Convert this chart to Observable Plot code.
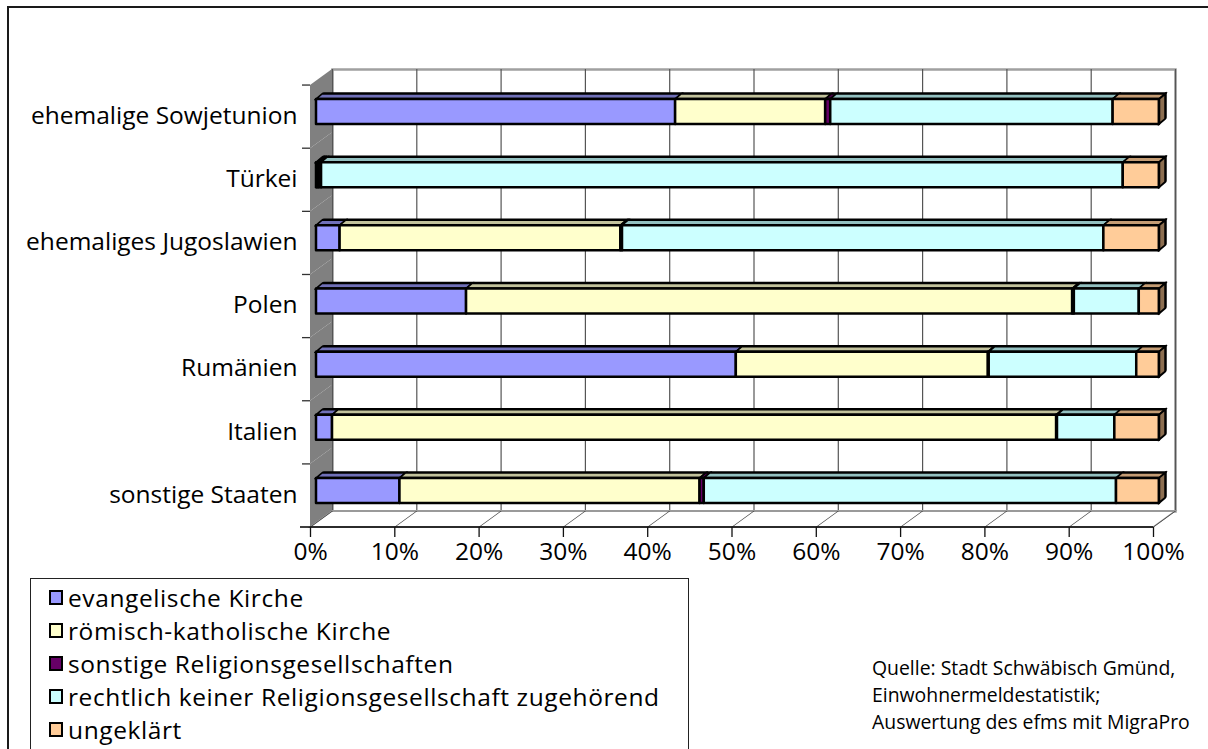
<!DOCTYPE html>
<html lang="de">
<head>
<meta charset="utf-8">
<title>Religionszugehörigkeit nach Herkunftsland</title>
<script src="https://cdn.jsdelivr.net/npm/d3@7"></script>
<script src="https://cdn.jsdelivr.net/npm/@observablehq/plot@0.6"></script>
<style>
  html, body { margin: 0; padding: 0; background: #fff; }
  body { font-family: "Open Sans", sans-serif; color: #000; }
  #page { position: relative; width: 1208px; height: 749px; overflow: hidden; background: #fff; }
  #chart { position: absolute; left: 0; top: 0; }
  #border { position: absolute; left: 7px; top: 6px; width: 1300px; height: 900px; border: 2px solid #1a1a1a; box-sizing: border-box; pointer-events: none; }
  #legend { position: absolute; left: 30px; top: 578px; width: 659px; height: 200px; border: 1px solid #222; box-sizing: border-box; }
  .item { position: absolute; left: 18px; height: 33px; display: flex; align-items: center; font-size: 24.5px; letter-spacing: 0.6px; white-space: nowrap; }
  .swatch { width: 10px; height: 11px; border: 2px solid #000; margin-right: 5px; flex: none; }
  #source { position: absolute; left: 872px; top: 654px; font-size: 19.4px; line-height: 27px; white-space: nowrap; }
</style>
</head>
<body>
<div id="page">
  <div id="chart"></div>
  <div id="border"></div>
  <div id="legend"></div>
  <div id="source">Quelle: Stadt Schwäbisch Gmünd,<br>Einwohnermeldestatistik;<br>Auswertung des efms mit MigraPro</div>
</div>
<script>
// Herkunftsländer (top to bottom)
const categories = [
  "ehemalige Sowjetunion",
  "Türkei",
  "ehemaliges Jugoslawien",
  "Polen",
  "Rumänien",
  "Italien",
  "sonstige Staaten"
];

// Religionszugehörigkeit, stacked left to right
const series = [
  "evangelische Kirche",
  "römisch-katholische Kirche",
  "sonstige Religionsgesellschaften",
  "rechtlich keiner Religionsgesellschaft zugehörend",
  "ungeklärt"
];

// Anteile in Prozent je Herkunftsland
const evangelisch   = [42.6,  0.1,  2.8, 17.8, 49.8,  1.9,  9.9];
const katholisch    = [17.8,  0.2, 33.3, 71.9, 29.9, 85.9, 35.6];
const sonstige      = [ 0.6,  0.3,  0.2,  0.2,  0.1,  0.1,  0.5];
const keineReligion = [33.5, 95.1, 57.1,  7.7, 17.5,  6.8, 48.9];
const ungeklaert    = [ 5.5,  4.3,  6.6,  2.4,  2.7,  5.3,  5.1];

const xTicks = [0, 10, 20, 30, 40, 50, 60, 70, 80, 90, 100];

// Fill colours: front faces, darker top faces, side face of the bar end
const frontColors = ["#9999FF", "#FFFFCC", "#660066", "#CCFFFF", "#FFCC99"];
const topColors   = ["#7070B8", "#C2C29C", "#4A004A", "#93C0C0", "#C49C74"];
const sideColor   = "#8C6E50";

const seriesValues = [evangelisch, katholisch, sonstige, keineReligion, ungeklaert];
const rows = categories.flatMap((country, i) =>
  series.map((religion, j) => ({country, religion, index: j, value: seriesValues[j][i]}))
);
const totals = categories.map((country, i) => ({
  country,
  total: d3.sum(seriesValues, (s) => s[i])
}));

// Layout of the pseudo-3D box
const W = 1208, H = 578;
const mLeft = 310, mRight = 55, mTop = 85, mBottom = H - 527;
const bw = (H - mTop - mBottom) / categories.length;  // band height
const depthX = 22, depthY = 16;                          // wall depth
const barDx = 6, barDy = -5;                             // bar offset into the box
const faceH = 25;                                        // front face height
const topDx = 6.5, topDy = 5.5;                          // bar top depth
const faceInset = (bw - faceH) / 2;
const labelFont = 24.5;

const chart = Plot.plot({
  width: W,
  height: H,
  marginLeft: mLeft,
  marginRight: mRight,
  marginTop: mTop,
  marginBottom: mBottom,
  style: {background: "transparent", fontFamily: "Open Sans, sans-serif", overflow: "visible"},
  x: {domain: [0, 100], axis: null},
  y: {domain: categories, axis: null, padding: 0, round: false},
  marks: [
    // back wall with its gridlines
    Plot.frame({fill: "white", stroke: "#a0a0a0", strokeWidth: 2.5, dx: depthX, dy: -depthY}),
    Plot.ruleX(xTicks, {x: (d) => d, stroke: "#555", strokeWidth: 1.2, dx: depthX, dy: -depthY}),
    // left side wall
    Plot.barX(categories, {
      y: (d) => d, x1: 0, x2: 0, insetRight: -depthX,
      fill: "#808080", ariaDescription: `skewy ${depthY / depthX}`
    }),
    // floor and its gridlines
    Plot.barX([categories[categories.length - 1]], {
      y: (d) => d, x1: 0, x2: 100, insetTop: bw - depthY,
      fill: "white", stroke: "#9a9a9a", strokeWidth: 2, ariaDescription: `skewx ${depthX / depthY}`
    }),
    Plot.ruleX(xTicks, {
      x: (d) => d, insetTop: bw * categories.length - depthY,
      stroke: "#333", strokeWidth: 1, ariaDescription: `skewx ${depthX / depthY}`
    }),
    // value axis line and ticks
    Plot.barX([categories[categories.length - 1]], {
      y: (d) => d, x1: 0, x2: 100, insetLeft: -10, insetTop: bw - 0.8, insetBottom: -0.8, fill: "#111"
    }),
    Plot.ruleX(xTicks, {x: (d) => d, insetTop: bw * categories.length - 10, dy: 10, stroke: "#111", strokeWidth: 1.3}),
    // category ticks at the band edges
    Plot.barX(categories, {
      y: (d) => d, x1: 0, x2: 0, insetLeft: -8, insetTop: -0.6, insetBottom: bw - 0.7, fill: "#333"
    }),
    // bar tops
    Plot.barX(rows, Plot.stackX({
      x: "value", y: "country", z: "index",
      fill: (d) => topColors[d.index],
      stroke: "black", strokeWidth: 2.5, strokeLinejoin: "round",
      insetTop: faceInset - topDy, insetBottom: bw - faceInset,
      dx: barDx, dy: barDy,
      ariaDescription: `skewx ${topDx / topDy}`
    })),
    // bar fronts
    Plot.barX(rows, Plot.stackX({
      x: "value", y: "country", z: "index",
      fill: (d) => frontColors[d.index],
      stroke: "black", strokeWidth: 2.5, strokeLinejoin: "round",
      insetTop: faceInset, insetBottom: faceInset,
      dx: barDx, dy: barDy
    })),
    // right end face of each bar
    Plot.barX(totals, {
      y: "country", x1: "total", x2: "total", insetRight: -topDx,
      insetTop: faceInset, insetBottom: faceInset,
      fill: sideColor, stroke: "black", strokeWidth: 2.5, strokeLinejoin: "round",
      dx: barDx, dy: barDy,
      ariaDescription: `skewy ${topDy / topDx}`
    }),
    // category labels
    Plot.text(categories, {
      y: (d) => d, text: (d) => d, frameAnchor: "left", textAnchor: "end",
      dx: -13, dy: -1, fontSize: labelFont, fill: "black"
    }),
    // percentage labels
    Plot.text(xTicks, {
      x: (d) => d, text: (d) => `${d}%`, frameAnchor: "bottom",
      dy: 32, fontSize: labelFont, letterSpacing: 1.5, fill: "black"
    })
  ]
});

// Turn the tagged rectangles and lines into parallelograms for the 3D look
chart.querySelectorAll("g[aria-description]").forEach((g) => {
  const [kind, ratio] = g.getAttribute("aria-description").split(" ");
  const k = +ratio;
  g.querySelectorAll("rect, line").forEach((el) => {
    const isRect = el.tagName.toLowerCase() === "rect";
    if (kind === "skewx") {
      const yb = isRect
        ? +el.getAttribute("y") + +el.getAttribute("height")
        : Math.max(+el.getAttribute("y1"), +el.getAttribute("y2"));
      el.setAttribute("transform", `matrix(1,0,${-k},1,${k * yb},0)`);
    } else if (kind === "skewy") {
      const xl = isRect
        ? +el.getAttribute("x")
        : Math.min(+el.getAttribute("x1"), +el.getAttribute("x2"));
      el.setAttribute("transform", `matrix(1,${-k},0,1,0,${k * xl})`);
    }
  });
});

document.getElementById("chart").append(chart);

// Legend
const legend = d3.select("#legend");
series.forEach((name, j) => {
  const item = legend.append("div").attr("class", "item").style("top", `${2 + j * 33}px`);
  item.append("div").attr("class", "swatch").style("background", frontColors[j]);
  item.append("span").text(name);
});
</script>
</body>
</html>
